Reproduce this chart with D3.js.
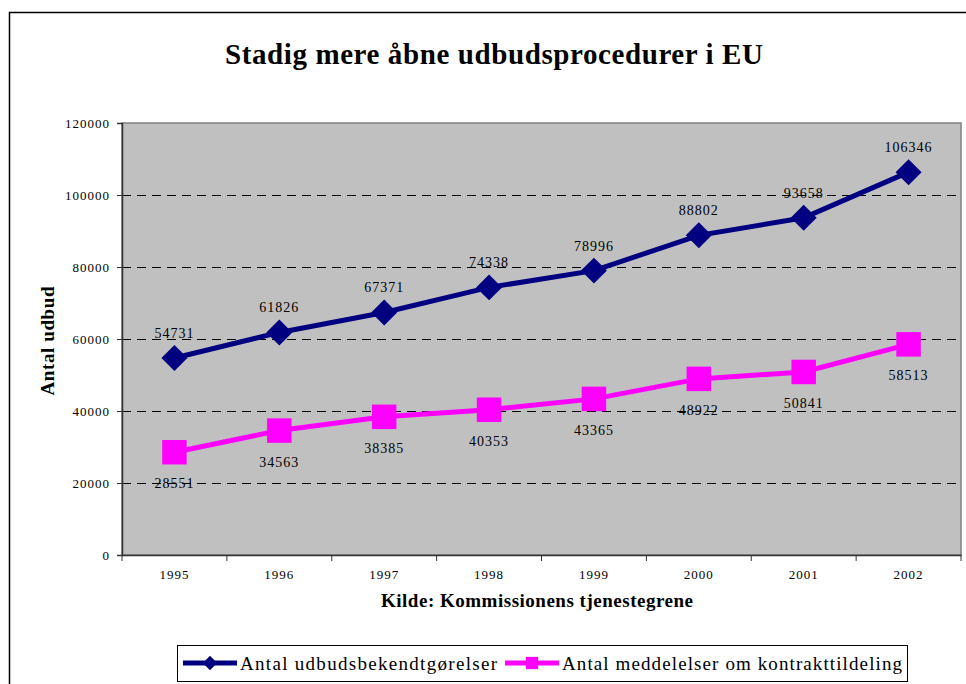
<!DOCTYPE html>
<html>
<head>
<meta charset="utf-8">
<script src="https://cdn.jsdelivr.net/npm/d3@7"></script>
<style>
  body { margin: 0; background: #fff; }
  svg text { font-family: "Liberation Serif", "Times New Roman", Times, serif; }
</style>
</head>
<body>
<svg id="chart" width="966" height="684"></svg>
<script>
const years = ['1995','1996','1997','1998','1999','2000','2001','2002'];
const udbud = [54731, 61826, 67371, 74338, 78996, 88802, 93658, 106346];
const tildeling = [28551, 34563, 38385, 40353, 43365, 48922, 50841, 58513];
const yTicks = [0, 20000, 40000, 60000, 80000, 100000, 120000];
const seriesNames = ['Antal udbudsbekendtgørelser', 'Antal meddelelser om kontrakttildeling'];

const svg = d3.select('#chart');
const m = {left: 122, right: 961, top: 123, bottom: 555};

// outer frame
svg.append('rect').attr('x', 9.5).attr('y', 12.5).attr('width', 990).attr('height', 700)
  .attr('fill', '#fff').attr('stroke', '#000').attr('stroke-width', 1.5);

const x = d3.scaleBand().domain(years).range([m.left, m.right]);
const y = d3.scaleLinear().domain([0, 120000]).range([m.bottom, m.top]);

// plot area
svg.append('rect').attr('x', m.left).attr('y', m.top)
  .attr('width', m.right - m.left).attr('height', m.bottom - m.top)
  .attr('fill', '#c0c0c0').attr('stroke', '#808080').attr('stroke-width', 1.5);

// dashed grid
svg.append('g').selectAll('line')
  .data(yTicks.filter(d => d > 0 && d < 120000))
  .join('line')
  .attr('x1', m.left).attr('x2', m.right)
  .attr('y1', d => Math.round(y(d)) + 0.5).attr('y2', d => Math.round(y(d)) + 0.5)
  .attr('stroke', '#000').attr('stroke-width', 1)
  .attr('shape-rendering', 'crispEdges')
  .attr('stroke-dasharray', '9,6');

// y axis
const yAxis = svg.append('g').attr('transform', `translate(${m.left},0)`)
  .call(d3.axisLeft(y).tickValues(yTicks).tickSize(5).tickPadding(7).tickFormat(d3.format('d')));
yAxis.attr('font-family', null);
yAxis.select('.domain').attr('stroke', '#333').attr('stroke-width', 1.5);
yAxis.selectAll('.tick line').attr('stroke', '#333');
yAxis.selectAll('text').attr('font-size', 13).attr('letter-spacing', 1).attr('fill', '#000');

// x axis, ticks sit between categories
const xAxis = svg.append('g').attr('transform', `translate(0,${m.bottom})`)
  .call(d3.axisBottom(x).tickSize(0).tickPadding(15));
xAxis.attr('font-family', null);
xAxis.select('.domain').attr('stroke', '#333').attr('stroke-width', 1.5);
xAxis.selectAll('text').attr('font-size', 13).attr('letter-spacing', 1).attr('fill', '#000');
xAxis.selectAll('line.sep')
  .data(years.map(d => x(d)).concat([m.right]))
  .join('line').attr('class', 'sep')
  .attr('x1', d => d).attr('x2', d => d).attr('y1', 0).attr('y2', 6)
  .attr('stroke', '#333');

// title and axis titles
svg.append('text').attr('x', 494).attr('y', 64).attr('text-anchor', 'middle')
  .attr('font-size', 29).attr('font-weight', 'bold')
  .attr('textLength', 538).attr('lengthAdjust', 'spacing')
  .text('Stadig mere åbne udbudsprocedurer i EU');

svg.append('text').attr('transform', `translate(54,341) rotate(-90)`)
  .attr('text-anchor', 'middle').attr('font-size', 19).attr('font-weight', 'bold')
  .attr('textLength', 109).attr('lengthAdjust', 'spacing')
  .text('Antal udbud');

svg.append('text').attr('x', 537).attr('y', 607).attr('text-anchor', 'middle')
  .attr('font-size', 19).attr('font-weight', 'bold')
  .attr('textLength', 312).attr('lengthAdjust', 'spacing')
  .text('Kilde: Kommissionens tjenestegrene');

const line = d3.line().x((d, i) => x(years[i]) + x.bandwidth() / 2).y(d => y(d));
const cx = i => x(years[i]) + x.bandwidth() / 2;

const diamond = d3.symbol().type(d3.symbolDiamond2).size(430);
const square = d3.symbol().type(d3.symbolSquare).size(600);

// navy series
svg.append('path').datum(udbud).attr('d', line)
  .attr('fill', 'none').attr('stroke', '#000080').attr('stroke-width', 5);
svg.append('g').selectAll('path').data(udbud).join('path')
  .attr('d', diamond)
  .attr('transform', (d, i) => `translate(${cx(i)},${y(d)})`)
  .attr('fill', '#000080');
svg.append('g').selectAll('text').data(udbud).join('text')
  .attr('x', (d, i) => cx(i)).attr('y', d => y(d) - 20)
  .attr('text-anchor', 'middle').attr('font-size', 14).attr('letter-spacing', 1)
  .text(d => d);

// magenta series
svg.append('path').datum(tildeling).attr('d', line)
  .attr('fill', 'none').attr('stroke', '#ff00ff').attr('stroke-width', 5);
svg.append('g').selectAll('path').data(tildeling).join('path')
  .attr('d', square)
  .attr('transform', (d, i) => `translate(${cx(i)},${y(d)})`)
  .attr('fill', '#ff00ff');
svg.append('g').selectAll('text').data(tildeling).join('text')
  .attr('x', (d, i) => cx(i)).attr('y', d => y(d) + 36)
  .attr('text-anchor', 'middle').attr('font-size', 14).attr('letter-spacing', 1)
  .text(d => d);

// legend
const lg = svg.append('g');
lg.append('rect').attr('x', 177.5).attr('y', 645.5).attr('width', 730).attr('height', 36)
  .attr('fill', '#fff').attr('stroke', '#000').attr('stroke-width', 1);
const legendItems = [
  {name: seriesNames[0], color: '#000080', sym: d3.symbol().type(d3.symbolDiamond2).size(130), x0: 183, tx: 240, tw: 257},
  {name: seriesNames[1], color: '#ff00ff', sym: d3.symbol().type(d3.symbolSquare).size(150), x0: 505, tx: 562, tw: 340}
];
legendItems.forEach(it => {
  lg.append('line').attr('x1', it.x0).attr('x2', it.x0 + 54).attr('y1', 663).attr('y2', 663)
    .attr('stroke', it.color).attr('stroke-width', 5);
  lg.append('path').attr('d', it.sym)
    .attr('transform', `translate(${it.x0 + 27},663)`)
    .attr('fill', it.color);
  lg.append('text').attr('x', it.tx).attr('y', 670).attr('font-size', 19)
    .attr('textLength', it.tw).attr('lengthAdjust', 'spacing')
    .text(it.name);
});
</script>
</body>
</html>
